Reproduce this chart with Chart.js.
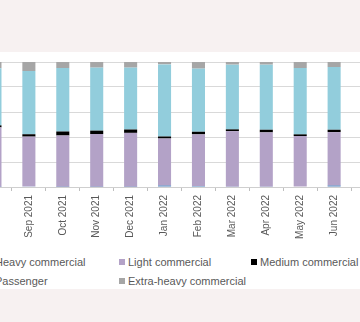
<!DOCTYPE html>
<html>
<head>
<meta charset="utf-8">
<script src="https://cdn.jsdelivr.net/npm/chart.js@4/dist/chart.umd.min.js"></script>
<style>
  html, body { margin: 0; padding: 0; }
  body { width: 360px; height: 322px; background: #f7f1f1; position: relative; overflow: hidden;
         font-family: "Liberation Sans", Arial, sans-serif; }
  #card { position: absolute; left: 0; top: 52px; width: 360px; height: 237px; background: #fff; }
  #mix { position: absolute; left: -62px; top: 52px; }
  #legend { position: absolute; left: -14px; top: 252px; display: grid;
            grid-template-columns: 133px 132px auto; grid-auto-rows: 19px;
            font-size: 11px; color: #595959; }
  #legend div { display: flex; align-items: center; white-space: nowrap; }
  #legend span { display: inline-block; width: 6px; height: 6px; margin-right: 3px; }
</style>
</head>
<body>
<div id="card"></div>
<canvas id="mix" width="452" height="195"></canvas>
<div id="legend"></div>
<script>
// ------------- Monthly sales mix by vehicle type (share of total, %) ------------- //

var months = ["Aug 2021", "Sep 2021", "Oct 2021", "Nov 2021", "Dec 2021", "Jan 2022",
              "Feb 2022", "Mar 2022", "Apr 2022", "May 2022", "Jun 2022", "Jul 2022"]

var heavyCommercial  = [0.2, 0.5, 0.2, 0.2, 0.2, 1.2, 0.8, 0.3, 0.3, 0.4, 1.2, 1.0]
var lightCommercial  = [47.5, 39.8, 41.0, 42.2, 43.1, 37.6, 41.3, 44.4, 43.4, 40.4, 42.7, 43.0]
var mediumCommercial = [1.6, 1.9, 3.2, 2.7, 2.7, 1.6, 2.1, 1.4, 2.1, 1.3, 1.9, 1.8]
var passenger        = [45.7, 50.6, 50.8, 50.4, 49.5, 57.7, 50.5, 51.8, 52.1, 53.1, 50.2, 50.2]
var extraHeavy       = [5.0, 7.2, 4.8, 4.5, 4.5, 1.9, 5.3, 2.1, 2.1, 4.8, 4.0, 4.0]

var yTicks = [0, 10, 20, 30, 40, 50, 60, 70, 80, 90, 100]

var textColor = "#595959"
var lineColor = "#d9d9d9"

function series(label, values, color) {
    return {
        label: label,
        data: values,
        backgroundColor: color,
        borderWidth: 0,
        categoryPercentage: 1,
        barPercentage: 0.385
    }
}

var mixChart = new Chart("mix", {
    type: "bar",
    data: {
        labels: months,
        datasets: [
            series("Heavy commercial", heavyCommercial, "#4a7ebb"),
            series("Light commercial", lightCommercial, "#b3a2c7"),
            series("Medium commercial", mediumCommercial, "#000000"),
            series("Passenger", passenger, "#92cddc"),
            series("Extra-heavy commercial", extraHeavy, "#a6a6a6")
        ]
    },
    options: {
        responsive: false,
        animation: false,
        layout: { padding: { top: 10, right: 5, left: 0, bottom: 0 } },
        plugins: {
            legend: { display: false },
            tooltip: { enabled: false }
        },
        scales: {
            x: {
                stacked: true,
                grid: { drawOnChartArea: false, tickLength: 4, color: "#bfbfbf" },
                border: { color: "#cfcfcf" },
                ticks: {
                    color: textColor,
                    font: { family: "'Liberation Sans', Arial, sans-serif", size: 10 },
                    minRotation: 90,
                    maxRotation: 90,
                    autoSkip: false,
                    padding: 4
                },
                afterFit: function (scale) { scale.height = 60 }
            },
            y: {
                stacked: true,
                min: 0,
                max: 100,
                afterBuildTicks: function (scale) {
                    scale.ticks = yTicks.map(function (v) { return { value: v } })
                },
                grid: { color: lineColor, drawTicks: false },
                border: { display: false },
                ticks: {
                    color: textColor,
                    font: { family: "'Liberation Sans', Arial, sans-serif", size: 10 },
                    callback: function (v) { return v + "%" }
                },
                afterFit: function (scale) { scale.width = 40 }
            }
        }
    }
});

// legend laid out in three columns under the plot
var legendBox = document.getElementById("legend")
mixChart.data.datasets.forEach(function (ds) {
    var item = document.createElement("div")
    var swatch = document.createElement("span")
    swatch.style.background = ds.backgroundColor
    item.appendChild(swatch)
    item.appendChild(document.createTextNode(ds.label))
    legendBox.appendChild(item)
})
</script>
</body>
</html>
